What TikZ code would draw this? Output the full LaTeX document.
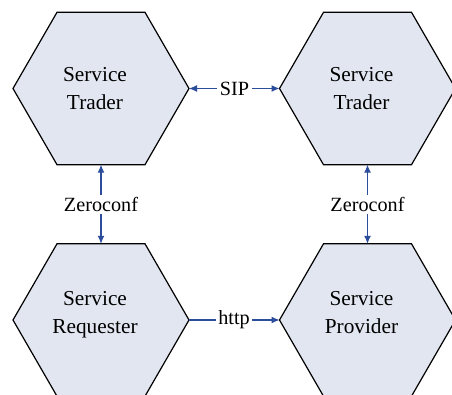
\documentclass[tikz,border=0pt]{standalone}
\usepackage{fontspec}
\setmainfont{Liberation Serif}
\newfontfamily\timesfont{Liberation Serif}
\usetikzlibrary{shapes.geometric,arrows.meta}
\definecolor{hexfill}{HTML}{E2E6F1}
\definecolor{linkblue}{HTML}{2C4C9C}
\tikzset{
  hexbox/.style={regular polygon, regular polygon sides=6, minimum size=176pt,
    inner sep=0pt, outer sep=0pt, draw=black, line width=1.2pt, fill=hexfill},
  hextext/.style={anchor=base, inner sep=0pt, font=\timesfont\fontsize{21.3}{25}\selectfont},
  linklabel/.style={inner sep=2.5pt, font=\timesfont\fontsize{20.2}{24}\selectfont},
  link/.style={draw=linkblue, line width=1.1pt, -{Latex[length=8pt,width=7pt]}}
}
\begin{document}
\begin{tikzpicture}[x=1pt,y=-1pt]
  \useasboundingbox (0,0) rectangle (452,395);
  \fill[white] (0,0) rectangle (452,395);

  % hexagons
  \node[hexbox] (tl) at (101,88.5) {};
  \node[hexbox] (tr) at (367.5,88.5) {};
  \node[hexbox] (bl) at (101,320) {};
  \node[hexbox] (br) at (367.5,320) {};

  % hexagon captions
  \node[hextext] (tl1) at (95,82) {Service};
  \node[hextext] (tl2) at (95,110) {Trader};
  \node[hextext] (tr1) at (361.5,82) {Service};
  \node[hextext] (tr2) at (361.5,110) {Trader};
  \node[hextext] (bl1) at (95,305) {Service};
  \node[hextext] (bl2) at (95,333) {Requester};
  \node[hextext] (br1) at (361.5,305) {Service};
  \node[hextext] (br2) at (361.5,333) {Provider};

  % connector labels
  \node[linklabel] (sip) at (234.5,88.5) {SIP};
  \node[linklabel] (http) at (234,320) {http};
  \node[linklabel] (zl) at (101,204.5) {Zeroconf};
  \node[linklabel] (zr) at (367.5,204.5) {Zeroconf};

  % connectors
  \draw[link] (sip.west) -- (tl.east);
  \draw[link] (sip.east) -- (tr.west);
  \draw[link] (zl.north) -- (tl.south);
  \draw[link] (zl.south) -- (bl.north);
  \draw[link] (zr.north) -- (tr.south);
  \draw[link] (zr.south) -- (br.north);
  \draw[draw=linkblue, line width=1.1pt] (bl.east) -- (http.west);
  \draw[link] (http.east) -- (br.west);
\end{tikzpicture}
\end{document}
